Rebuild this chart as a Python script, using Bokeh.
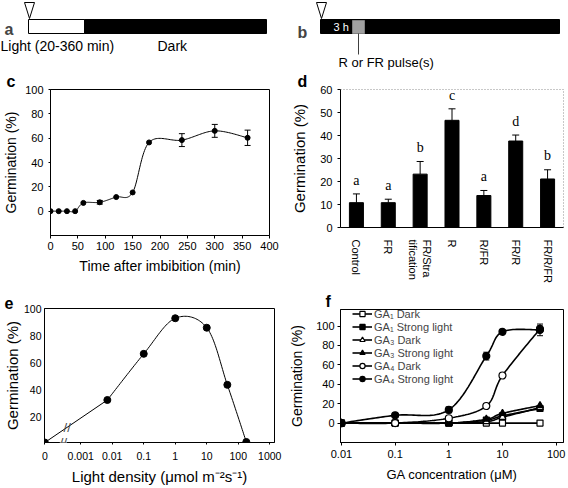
import numpy as np
from bokeh.plotting import figure
from bokeh.layouts import column, row
from bokeh.models import (Range1d, FactorRange, FixedTicker, Whisker, TeeHead,
                          ColumnDataSource, Label, Legend, LegendItem, Title)
from bokeh.embed import file_html
from bokeh.resources import INLINE
from bokeh.core.properties import value

FONT = "Liberation Sans"

# ---------------- data ----------------
# panel c: germination vs light exposure time
c_time = [0, 15, 30, 45, 60, 90, 120, 150, 180, 240, 300, 360]
c_germ = [0, 0, 0, 0, 6.8, 7.3, 11.6, 15.4, 56.5, 58.4, 66.0, 60.3]
c_err = [0, 0, 0, 0, 0, 1.5, 0, 0, 0, 5.3, 5.3, 6.3]
c_ticks = [0, 50, 100, 150, 200, 250, 300, 350, 400]

# panel d: R / FR pulses
d_treat = ["Control", "FR", "FR/Stra\ntification", "R", "R/FR", "FR/R", "FR/R/FR"]
d_germ = [10.8, 10.8, 23.2, 46.6, 13.9, 37.6, 21.1]
d_err = [3.8, 1.5, 5.5, 5.0, 2.2, 2.6, 4.0]
d_group = ["a", "a", "b", "c", "a", "d", "b"]

# panel e: light density response
e_density = [0, 0.007, 0.1, 1, 10, 45, 180]
e_germ = [1, 32.4, 66.5, 92.8, 85.8, 43.6, 1.4]
e_tick_vals = [0, 0.001, 0.01, 0.1, 1, 10, 100, 1000]
e_tick_text = ["0", "0.001", "0.01", "0.1", "1", "10", "100", "1000"]

# panel f: GA dose response
f_conc = [0.01, 0.1, 1, 5, 10, 50]
f_names = ["GA\u2081 Dark", "GA\u2081 Strong light", "GA\u2083 Dark",
           "GA\u2083 Strong light", "GA\u2084 Dark", "GA\u2084 Strong light"]
f_ga1_dark = [0, 0, 0, 0, 0, 0]
f_ga1_light = [0, 0, 0, 3, 7.5, 15]
f_ga3_dark = [0, 0, 0, 1.5, 6, 16]
f_ga3_light = [0, 0, 0, 4, 10, 18]
f_ga4_dark = [0, 0, 5, 17.6, 49, 97]
f_ga4_light = [0, 8, 13.6, 69, 94, 96]
f_ga4_dark_err = [0, 0, 0, 2, 2, 3]
f_ga4_light_err = [0, 0, 3, 4, 1.5, 6]
f_tick_vals = [0.01, 0.1, 1, 10, 100]
f_tick_text = ["0.01", "0.1", "1", "10", "100"]


def catmull_rom(xs, ys, n=24):
    P = np.column_stack([xs, ys]).astype(float)
    P = np.vstack([P[0], P, P[-1]])
    t = np.linspace(0, 1, n, endpoint=False)[:, None]
    out = []
    for i in range(1, len(P) - 2):
        p0, p1, p2, p3 = P[i - 1], P[i], P[i + 1], P[i + 2]
        seg = 0.5 * (2 * p1 + (p2 - p0) * t + (2 * p0 - 5 * p1 + 4 * p2 - p3) * t ** 2
                     + (-p0 + 3 * p1 - 3 * p2 + p3) * t ** 3)
        out.append(seg)
    out.append(P[-2][None, :])
    arr = np.vstack(out)
    return arr[:, 0], arr[:, 1]


def style(p, tick_size="11px", title_size="14px"):
    p.grid.visible = False
    p.background_fill_color = "white"
    p.border_fill_color = "white"
    for ax in p.axis:
        ax.axis_label_text_font = FONT
        ax.axis_label_text_font_style = "normal"
        ax.axis_label_text_font_size = title_size
        ax.axis_label_text_color = "black"
        ax.major_label_text_font = FONT
        ax.major_label_text_font_size = tick_size
        ax.major_label_text_color = "black"
        ax.axis_line_color = "black"
        ax.axis_line_width = 1
        ax.major_tick_line_color = "black"
        ax.minor_tick_line_color = None
        ax.major_tick_in = 0
        ax.major_tick_out = 3


def panel_letter(txt, dx):
    return Title(text=txt, align="left", offset=dx, standoff=0, vertical_align="bottom",
                 text_font=FONT, text_font_style="bold", text_font_size="16px",
                 text_color="black")


COMMON = dict(output_backend="svg", toolbar_location=None, frame_align=False)

# ---------------- panels a, b (schematic) ----------------
pab = figure(width=568, height=70, x_range=Range1d(0, 568), y_range=Range1d(70, 0),
             min_border_left=0, min_border_right=0, min_border_top=0, min_border_bottom=0,
             **COMMON)
pab.axis.visible = False
pab.grid.visible = False
pab.outline_line_color = None
# schematic geometry (drawing units of the scheme)
sch_left = [28, 84, 320]
sch_right = [84, 266, 559]
sch_fill = ["white", "black", "black"]
pab.quad(left=sch_left, right=sch_right, top=19, bottom=33, fill_color=sch_fill,
         line_color="black", line_width=1)
pab.quad(left=[352], right=[364], top=20, bottom=33, fill_color="#a0a0a0", line_color="#808080")
pab.segment(x0=[358], y0=[33], x1=[358], y1=[54], line_color="#404040", line_width=1)
pab.patches(xs=[[24, 34, 29], [316, 326, 321]], ys=[[2, 2, 18], [2, 2, 18]],
            fill_color="white", line_color="black", line_width=1)
for txt, x, y, size, col in [("Light (20-360 min)", 0, 45, "14px", "black"),
                             ("Dark", 157, 45, "14px", "black"),
                             ("3 h", 333, 26, "11px", "white"),
                             ("R or FR pulse(s)", 338, 62, "13px", "black")]:
    pab.add_layout(Label(x=x, y=y, text=txt, text_font=FONT, text_font_size=size,
                         text_color=col, text_align="left", text_baseline="middle"))
for txt, x, y in [("a", 4, 29), ("b", 297, 32)]:
    pab.add_layout(Label(x=x, y=y, text=txt, text_font=FONT, text_font_style="bold",
                         text_font_size="16px", text_baseline="alphabetic"))

# ---------------- panel c ----------------
pc = figure(width=284, height=220, x_range=Range1d(0, 400), y_range=Range1d(-20, 100),
            min_border_left=49, min_border_right=15, min_border_top=18, min_border_bottom=55,
            **COMMON)
pc.add_layout(panel_letter("c", -44), "above")
style(pc)
pc.outline_line_color = "black"
pc.xaxis.ticker = FixedTicker(ticks=c_ticks)
pc.yaxis.ticker = FixedTicker(ticks=[0, 20, 40, 60, 80, 100])
pc.xaxis.axis_label = "Time after imbibition (min)"
pc.yaxis.axis_label = "Germination (%)"
pc.yaxis.major_tick_out = 2
pc.yaxis.major_label_standoff = 5
pc.yaxis.axis_label_standoff = 3
pc.xaxis.major_label_standoff = 3
pc.xaxis.axis_label_standoff = 5
sx, sy = catmull_rom(c_time, c_germ)
pc.line(sx, sy, line_color="black", line_width=1)
ce = [(t, g, e) for t, g, e in zip(c_time, c_germ, c_err) if e > 0]
csrc = ColumnDataSource(dict(x=[a[0] for a in ce], lo=[a[1] - a[2] for a in ce],
                             hi=[a[1] + a[2] for a in ce]))
pc.add_layout(Whisker(base="x", lower="lo", upper="hi", source=csrc, line_color="black",
                      upper_head=TeeHead(size=6, line_color="black"),
                      lower_head=TeeHead(size=6, line_color="black")))
pc.scatter(c_time, c_germ, marker="circle", size=5, color="black")

# ---------------- panel d ----------------
pd_ = figure(width=284, height=220, x_range=FactorRange(*d_treat), y_range=Range1d(0, 60),
             min_border_left=56, min_border_right=5, min_border_top=18, min_border_bottom=63,
             **COMMON)
pd_.add_layout(panel_letter("d", -43), "above")
style(pd_, title_size="15px")
pd_.outline_line_color = "#909090"
pd_.outline_line_dash = "1 2"
pd_.yaxis.ticker = FixedTicker(ticks=[0, 10, 20, 30, 40, 50, 60])
pd_.yaxis.axis_label = "Germination (%)"
pd_.yaxis.major_label_standoff = 5
pd_.yaxis.axis_label_standoff = 9
pd_.xaxis.major_label_orientation = "vertical"
pd_.xaxis.major_tick_out = 0
pd_.xaxis.major_label_standoff = 12
pd_.vbar(x=d_treat, top=d_germ, width=0.44, color="black")
d_top = [g + e for g, e in zip(d_germ, d_err)]
dsrc = ColumnDataSource(dict(x=d_treat, lo=d_germ, hi=d_top))
pd_.add_layout(Whisker(base="x", lower="lo", upper="hi", source=dsrc, line_color="black",
                       upper_head=TeeHead(size=7, line_color="black"), lower_head=None))
pd_.text(x=d_treat, y=[t + 6 for t in d_top], text=d_group, text_font=value("Liberation Serif"),
         text_font_size="14px", text_align="center", text_baseline="middle", text_color="black")

# ---------------- panel e ----------------
E_LO, E_HI = -4.15, 3.15
e_zero = 10 ** -4.14
pe = figure(width=284, height=198, x_axis_type="log", x_range=Range1d(10 ** E_LO, 10 ** E_HI),
            y_range=Range1d(1, 100),
            min_border_left=43, min_border_right=10, min_border_top=18, min_border_bottom=46,
            **COMMON)
pe.add_layout(panel_letter("e", -40), "above")
style(pe, tick_size="10.5px", title_size="15px")
pe.outline_line_color = "black"
e_x = [e_zero if d == 0 else d for d in e_density]
e_ticks = [e_zero if d == 0 else d for d in e_tick_vals]
pe.xaxis.ticker = FixedTicker(ticks=e_ticks)
pe.xaxis.major_label_overrides = {t: s for t, s in zip(e_ticks, e_tick_text)}
pe.yaxis.ticker = FixedTicker(ticks=[20, 40, 60, 80, 100])
pe.yaxis.axis_label = "Germination (%)"
pe.xaxis.axis_label = "Light density (\u03bcmol m\u207b\u00b2s\u207b\u00b9)"
pe.yaxis.major_tick_out = 0
pe.yaxis.major_label_standoff = 3
pe.yaxis.axis_label_standoff = 0
pe.xaxis.major_tick_out = 2
pe.xaxis.major_label_standoff = 7
pe.xaxis.axis_label_standoff = 5
pe.line(e_x[:2], e_germ[:2], line_color="black", line_width=1)
lx, ly = catmull_rom(np.log10(e_x[1:]), e_germ[1:])
pe.line(10 ** lx, ly, line_color="black", line_width=1)
pe.scatter(e_x, e_germ, marker="circle", size=7, color="black")
brk = -3.55
pe.add_layout(Label(x=10 ** brk, y=1, text="//", text_font=FONT, text_font_size="13px",
                    text_align="center", text_baseline="middle", background_fill_color="white"))
lg0, lg1 = np.log10(e_x[0]), np.log10(e_x[1])
bl = brk + 0.12
yl = e_germ[0] + (e_germ[1] - e_germ[0]) * (bl - lg0) / (lg1 - lg0)
pe.add_layout(Label(x=10 ** bl, y=yl, text="//", text_font=FONT, text_font_size="13px",
                    text_align="center", text_baseline="middle"))

# ---------------- panel f ----------------
pf = figure(width=284, height=198, x_axis_type="log", x_range=Range1d(0.0096, 137),
            y_range=Range1d(-20, 117),
            min_border_left=56, min_border_right=5, min_border_top=18, min_border_bottom=46,
            **COMMON)
pf.add_layout(panel_letter("f", -15), "above")
style(pf, tick_size="11px", title_size="14px")
pf.outline_line_color = "black"
pf.xaxis.ticker = FixedTicker(ticks=f_tick_vals)
pf.xaxis.major_label_overrides = {t: s for t, s in zip(f_tick_vals, f_tick_text)}
pf.yaxis.ticker = FixedTicker(ticks=[0, 20, 40, 60, 80, 100])
pf.yaxis.axis_label = "Germination (%)"
pf.xaxis.axis_label = "GA concentration (\u03bcM)"
pf.xaxis.axis_label_text_font_size = "13px"
pf.yaxis.major_label_standoff = 3
pf.yaxis.axis_label_standoff = 8
pf.xaxis.major_label_standoff = 4
pf.xaxis.axis_label_standoff = 6

f_series = [f_ga1_dark, f_ga1_light, f_ga3_dark, f_ga3_light, f_ga4_dark, f_ga4_light]
f_markers = ["square", "square", "triangle", "triangle", "circle", "circle"]
f_fills = ["white", "black", "white", "black", "white", "black"]
f_sizes = [6, 6, 7, 7, 7, 7]
for ys, errs in [(f_ga4_dark, f_ga4_dark_err), (f_ga4_light, f_ga4_light_err)]:
    pts = [(x, y, e) for x, y, e in zip(f_conc, ys, errs) if e > 0]
    src = ColumnDataSource(dict(x=[p[0] for p in pts], lo=[p[1] - p[2] for p in pts],
                                hi=[p[1] + p[2] for p in pts]))
    pf.add_layout(Whisker(base="x", lower="lo", upper="hi", source=src, line_color="black",
                          upper_head=TeeHead(size=6, line_color="black"),
                          lower_head=TeeHead(size=6, line_color="black")))
items = []
log_c = np.log10(f_conc)
for name, ys, mk, fc, sz in zip(f_names, f_series, f_markers, f_fills, f_sizes):
    lx, ly = catmull_rom(log_c, ys)
    lr = pf.line(10 ** lx, ly, line_color="black", line_width=1.6)
    sr = pf.scatter(f_conc, ys, marker=mk, size=sz, fill_color=fc, line_color="black",
                    line_width=1.2)
    items.append(LegendItem(label=name, renderers=[lr, sr]))
leg = Legend(items=items, location=(12, 57), label_text_font=FONT, label_text_font_size="11px",
             glyph_width=20, glyph_height=13, label_height=13, spacing=0, padding=0, margin=0,
             label_standoff=2, border_line_color=None, background_fill_alpha=0)
pf.add_layout(leg)

root = column(pab, row(pc, pd_), row(pe, pf))
open("out.html", "w").write(file_html(root, INLINE))
